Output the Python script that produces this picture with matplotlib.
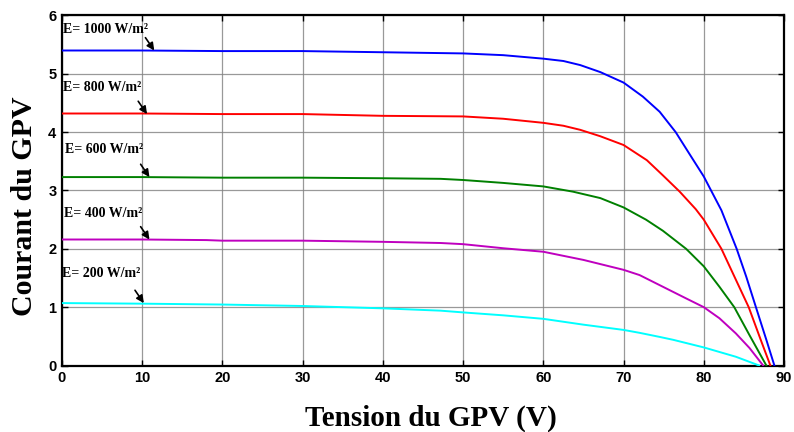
import numpy as np
import matplotlib.pyplot as plt
from matplotlib import font_manager

# I-V curves of the PV generator for five irradiance levels
v_1000 = [0, 10, 20, 30, 40, 50, 55, 60, 62.5, 64.6, 67.1, 70, 72.4, 74.5, 76.5, 78.2,
          80, 81.1, 82.2, 84.1, 85.3, 86.5, 87.8, 88.8]
i_1000 = [5.40, 5.40, 5.39, 5.39, 5.37, 5.35, 5.32, 5.26, 5.22, 5.15, 5.03, 4.85, 4.61, 4.35, 4.00, 3.63,
          3.24, 2.95, 2.66, 2.0, 1.52, 1.0, 0.44, 0.0]

v_800 = [0, 10, 20, 30, 40, 50, 55, 60, 62.5, 64.6, 67.1, 70, 72.9, 74.9, 77.0, 79.0,
         80, 82.2, 83.9, 85.6, 87.1, 88.3]
i_800 = [4.32, 4.32, 4.31, 4.31, 4.28, 4.27, 4.23, 4.16, 4.11, 4.04, 3.93, 3.78, 3.52, 3.26, 2.98, 2.68,
         2.50, 2.0, 1.50, 1.0, 0.44, 0.0]

v_600 = [0, 10, 20, 30, 40, 47.2, 50, 55, 60, 63.7, 67.1, 70, 72.8, 74.9, 77.8, 80,
         81.95, 83.8, 85.7, 87.8]
i_600 = [3.23, 3.23, 3.22, 3.22, 3.21, 3.20, 3.18, 3.13, 3.07, 2.98, 2.87, 2.71, 2.50, 2.31, 2.0, 1.70,
         1.35, 1.0, 0.52, 0.0]

v_400 = [0, 10, 18, 20, 30, 40, 47.2, 50, 55, 60, 65, 70, 72, 74.9, 77.8, 80,
         81.95, 84.0, 85.7, 87.4]
i_400 = [2.16, 2.16, 2.15, 2.14, 2.14, 2.12, 2.10, 2.08, 2.01, 1.95, 1.81, 1.64, 1.55, 1.35, 1.15, 1.0,
         0.81, 0.55, 0.30, 0.0]

v_200 = [0, 10, 20, 30, 40, 47.2, 50, 55, 60, 65, 70, 72, 74.5, 76.2, 80, 84.0, 86.9]
i_200 = [1.07, 1.06, 1.045, 1.02, 0.98, 0.94, 0.91, 0.86, 0.80, 0.70, 0.61, 0.56, 0.49, 0.44, 0.31, 0.15, 0.0]

labels = ['E= 1000 W/m²', 'E= 800 W/m²', 'E= 600 W/m²', 'E= 400 W/m²', 'E= 200 W/m²']
colors = ['#0000ff', '#ff0000', '#008000', '#bf00bf', '#00ffff']
# arrow tip on each curve and label anchor (data coords)
arrow_tips = [(11.5, 5.40), (10.6, 4.31), (10.9, 3.23), (10.9, 2.16), (10.2, 1.07)]
label_pos = [(0.15, 5.76), (0.15, 4.76), (0.4, 3.70), (0.3, 2.61), (0.0, 1.585)]

narrow = 'Liberation Sans Narrow'
names = {f.name for f in font_manager.fontManager.ttflist}
tick_family = [narrow, 'DejaVu Sans'] if narrow in names else ['Liberation Sans', 'DejaVu Sans']
serif = ['Liberation Serif', 'DejaVu Serif']

fig = plt.figure(figsize=(7.94, 4.32), dpi=100)
ax = fig.add_axes([62 / 794, 1 - 365.5 / 432, 722 / 794, 350 / 432])

curves = [(v_1000, i_1000), (v_800, i_800), (v_600, i_600), (v_400, i_400), (v_200, i_200)]
for (v, i), c in zip(curves, colors):
    ax.plot(v, i, color=c, linewidth=1.4, zorder=3)

for txt, tip, pos in zip(labels, arrow_tips, label_pos):
    ax.text(pos[0], pos[1], txt, family=serif, fontweight='bold', fontsize=10,
            ha='left', va='center', zorder=4)
    ax.annotate('', xy=tip, xytext=(tip[0] - 1.1, tip[1] + 0.22),
                arrowprops=dict(arrowstyle='-|>', color='black', lw=1.2,
                                mutation_scale=11, shrinkA=0, shrinkB=0),
                zorder=4)

ax.set_xlim(0, 90)
ax.set_ylim(0, 6)
ax.set_xticks(np.arange(0, 91, 10))
ax.set_yticks(np.arange(0, 7, 1))
ax.grid(True, color='#808080', linewidth=0.9, alpha=0.8)
ax.set_axisbelow(True)
ax.tick_params(direction='in', top=True, right=True, length=4, width=1,
               labelsize=10.5, pad=4)
for lab in ax.get_xticklabels() + ax.get_yticklabels():
    lab.set_family(tick_family)
    lab.set_fontweight('bold')
for s in ax.spines.values():
    s.set_linewidth(1.6)

ax.set_xlabel('Tension du GPV (V)', family=serif, fontweight='bold', fontsize=21)
ax.set_ylabel('Courant du GPV', family=serif, fontweight='bold', fontsize=21.5)
ax.xaxis.set_label_coords((431 - 62) / 722, -(418 - 365.5) / 350)
ax.yaxis.set_label_coords((25 - 62) / 722, (365.5 - 206) / 350)
ax.xaxis.label.set_va('center')
ax.yaxis.label.set_va('center')

fig.savefig('out.png', dpi=100)
plt.close(fig)
